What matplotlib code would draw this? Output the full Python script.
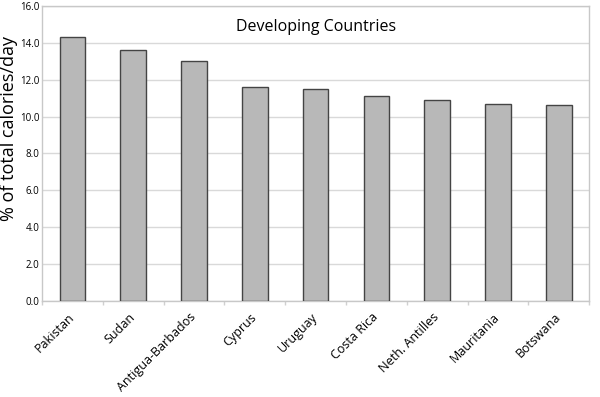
import matplotlib
matplotlib.use("Agg")
import matplotlib.pyplot as plt
import matplotlib.transforms as mtransforms
import numpy as np

countries = ["Pakistan", "Sudan", "Antigua-Barbados", "Cyprus", "Uruguay",
             "Costa Rica", "Neth. Antilles", "Mauritania", "Botswana"]
values = [14.3, 13.6, 13.0, 11.6, 11.5, 11.1, 10.9, 10.7, 10.65]
yticks = [0, 2, 4, 6, 8, 10, 12, 14, 16]
title = "Developing Countries"
ylabel = "% of total calories/day"

plt.rcParams['font.family'] = ['Open Sans', 'DejaVu Sans']

fig = plt.figure(figsize=(6, 3.97), dpi=100)
ax = fig.add_axes([0.07, 0.242, 0.912, 0.743])
x = np.arange(len(countries))
ax.bar(x, values, width=0.42, color="#b8b8b8", edgecolor="#444444", linewidth=1.0, zorder=3)
ax.set_xlim(-0.5, len(countries) - 0.5)
ax.set_ylim(0, 16)
ax.set_yticks(yticks)
ax.set_yticklabels([f"{v:.1f}" for v in yticks], fontsize=7)
ax.set_xticks(x)
ax.set_xticklabels(countries, rotation=45, ha="right", rotation_mode="anchor", fontsize=9)
ax.set_xticks(np.arange(len(countries) + 1) - 0.5, minor=True)
ax.tick_params(axis="x", which="major", length=0, pad=7)
ax.tick_params(axis="x", which="minor", length=3, color="#d0d0d0", width=1.0)
ax.tick_params(axis="y", length=0, pad=2)
offset = mtransforms.ScaledTranslation(-5 / 100, 0, fig.dpi_scale_trans)
for lbl in ax.get_xticklabels():
    lbl.set_transform(lbl.get_transform() + offset)
ax.grid(axis="y", color="#d9d9d9", linewidth=1.0, zorder=0)
for s in ax.spines.values():
    s.set_color("#c8c8c8")
    s.set_linewidth(1.0)
ax.set_ylabel(ylabel, fontsize=13)
ax.yaxis.set_label_coords(-0.044, 0.586)
ax.text(0.5, 0.929, title, transform=ax.transAxes, ha="center", va="center", fontsize=11.5)
fig.savefig("out.png", dpi=100)
